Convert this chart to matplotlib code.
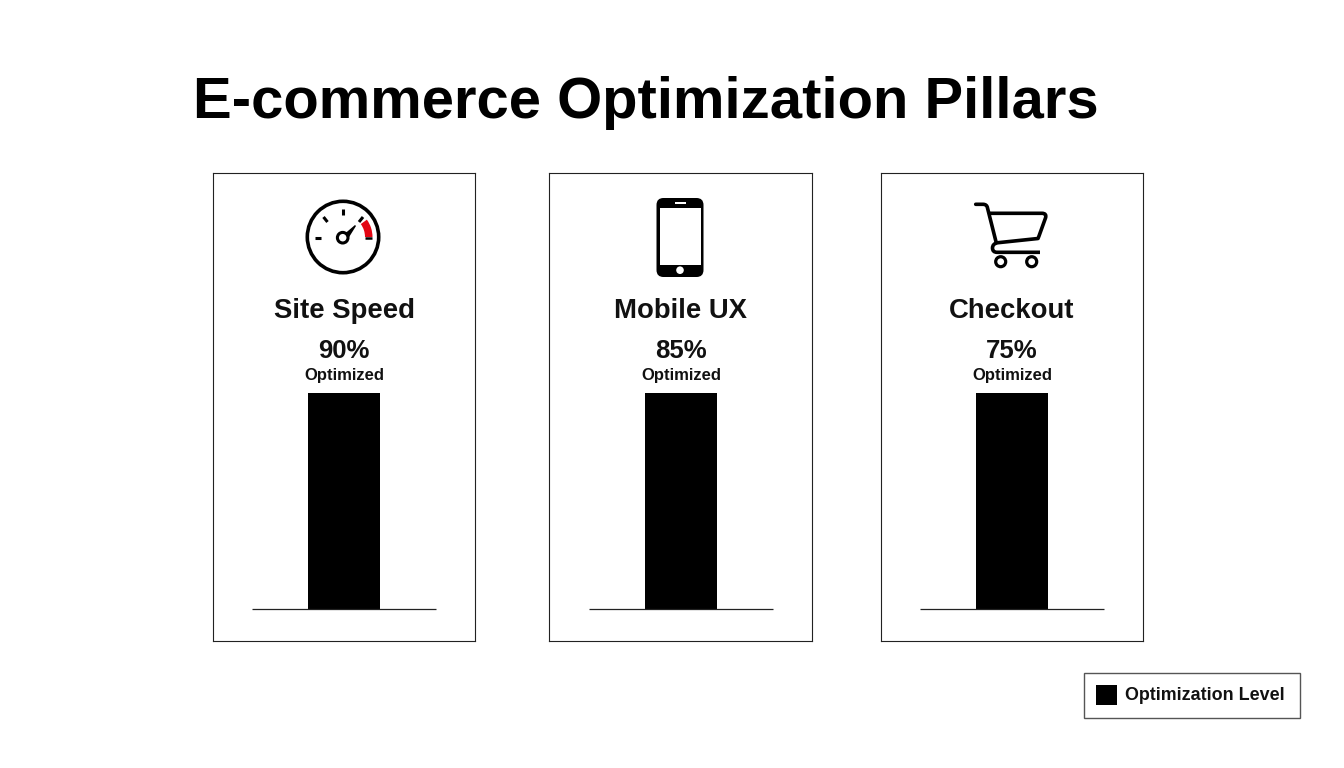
import numpy as np
import matplotlib
matplotlib.use("Agg")
import matplotlib.pyplot as plt
from matplotlib.path import Path
from matplotlib.patches import Circle, FancyBboxPatch, PathPatch, Rectangle, Wedge

plt.rcParams['font.family'] = ['Liberation Sans', 'DejaVu Sans']

# Data
title = "E-commerce Optimization Pillars"
categories = ["Site Speed", "Mobile UX", "Checkout"]
percent_labels = ["90%", "85%", "75%"]
sub_label = "Optimized"
bar_heights = [100, 100, 100]  # the bars are all drawn the same height in the picture
legend_label = "Optimization Level"

W, H = 1344, 768
fig = plt.figure(figsize=(W / 100, H / 100), dpi=100, facecolor="white")


def add_panel(left, right, top=173, bottom=641):
    return fig.add_axes([left / W, 1 - bottom / H, (right - left) / W, (bottom - top) / H])


panel_edges = [(212.5, 475), (548.5, 812), (881, 1143)]
centers = [344, 681, 1012]
PX = 100 / 216  # one pixel in bar units

for i in range(3):
    left, right = panel_edges[i]
    ax = add_panel(left, right)
    # x axis is in pixels around the bar centre, y axis in bar units
    ax.set_xlim(left - centers[i], right - centers[i])
    ax.set_ylim(-(641 - 609) * PX, (609 - 173) * PX)
    ax.bar([0], [bar_heights[i]], width=72, color="black", linewidth=0)
    ax.plot([-92.5, 91.5], [0, 0], color="#222222", lw=0.9, solid_capstyle="butt")
    ax.set_xticks([])
    ax.set_yticks([])
    for s in ax.spines.values():
        s.set_linewidth(0.8)
        s.set_color("#222222")

# overlay in pixel coordinates for text and icons
ov = fig.add_axes([0, 0, 1, 1], facecolor="none")
ov.set_xlim(0, W)
ov.set_ylim(H, 0)
ov.axis("off")

ov.text(645.5, 118, title, fontsize=41.8, fontweight="bold", ha="center", va="baseline", color="black")

for i in range(3):
    cx = centers[i]
    ov.text(cx, 311.5, categories[i], fontsize=19.8, fontweight="bold", ha="center", va="center", color="#111111")
    ov.text(cx - 0.5, 351, percent_labels[i], fontsize=18.5, fontweight="bold", ha="center", va="center", color="#111111")
    ov.text(cx, 375.5, sub_label, fontsize=12, fontweight="bold", ha="center", va="center", color="#111111")

# gauge icon
gx, gy = 343, 237
ov.add_patch(Circle((gx, gy), 35.7, fill=False, ec="black", lw=2.6))
ov.plot([315, 321], [237.5, 237.5], color="black", lw=2.2, solid_capstyle="butt")
ov.plot([343, 343], [209, 215], color="black", lw=2.2, solid_capstyle="butt")
ov.plot([323.5, 327.5], [217, 222], color="black", lw=2.2, solid_capstyle="butt")
ov.plot([363, 359], [217, 222], color="black", lw=2.2, solid_capstyle="butt")
ov.add_patch(Wedge((gx, gy), 29.5, -36, 0, width=7.5, fc="#e30613", ec="none"))
ov.plot([365, 371.5], [237.5, 237.5], color="black", lw=1.8, solid_capstyle="butt")
ov.fill([345, 355, 356, 348.5], [233.5, 225, 226, 238], color="black", lw=0)
ov.add_patch(Circle((342.7, 237.7), 5.3, fc="white", ec="black", lw=2.2, zorder=3))

# phone icon
ov.add_patch(FancyBboxPatch((656.5 + 7, 198 + 7), 47 - 14, 79 - 14, boxstyle="round,pad=7,rounding_size=7",
                            fc="black", ec="none"))
ov.add_patch(Rectangle((660, 208), 41, 56.5, fc="white", ec="none"))
ov.add_patch(Rectangle((674.5, 202), 11, 2.3, fc="white", ec="none"))
ov.add_patch(Circle((680, 270.2), 3.8, fc="white", ec="none"))

# cart icon
ov.add_patch(PathPatch(Path(
    [(975.7, 204.3), (983, 204.3), (987, 204.3), (987.5, 208), (996, 241.7)],
    [Path.MOVETO, Path.LINETO, Path.CURVE3, Path.CURVE3, Path.LINETO]),
    fill=False, ec="black", lw=2.6, capstyle="round", joinstyle="round"))
ov.add_patch(PathPatch(Path(
    [(990, 213.3), (1042, 213.3), (1047, 213.3), (1045.5, 218), (1039, 236), (1038, 238.5),
     (998, 242.7), (992.5, 243.5), (992.5, 248), (992.5, 252.3), (997, 252.3), (1040, 252.3)],
    [Path.MOVETO, Path.LINETO, Path.CURVE3, Path.CURVE3, Path.LINETO, Path.LINETO,
     Path.LINETO, Path.CURVE3, Path.CURVE3, Path.CURVE3, Path.CURVE3, Path.LINETO]),
    fill=False, ec="black", lw=2.6, capstyle="butt", joinstyle="round"))
ov.add_patch(Circle((1000.7, 261.7), 5, fc="white", ec="black", lw=2.3))
ov.add_patch(Circle((1031.7, 261.7), 5, fc="white", ec="black", lw=2.3))

# legend box
ov.add_patch(Rectangle((1083.5, 672.5), 216, 45, fc="white", ec="#555555", lw=1.0))
ov.add_patch(Rectangle((1096, 685), 21, 20, fc="black", ec="none"))
ov.text(1125, 696, legend_label, fontsize=12.9, fontweight="bold", ha="left", va="center", color="#111111")

fig.savefig("out.png", dpi=100, facecolor="white")
